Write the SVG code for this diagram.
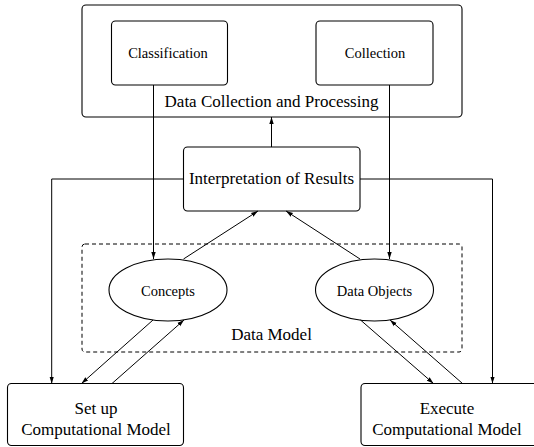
<svg xmlns="http://www.w3.org/2000/svg" width="534" height="447" viewBox="0 0 534 447">
<style>
.box{fill:none;stroke:#000;stroke-width:1.1}
.dash{fill:none;stroke:#000;stroke-width:1;stroke-dasharray:4,3}
.t{font-family:"Liberation Serif","Times New Roman",serif;fill:#000;text-anchor:middle}
.s{font-size:14.5px}
.b{font-size:17px}
.c{fill:none;stroke:#000;stroke-width:1;marker-end:url(#ah)}
</style>
<defs>
<marker id="ah" markerUnits="userSpaceOnUse" markerWidth="7" markerHeight="6" refX="7" refY="3" orient="auto">
<path d="M0,0.8 L7,3 L0,5.2 z" fill="#000"/>
</marker>
</defs>
<rect x="0" y="0" width="534" height="447" fill="#fff"/>
<g id="dcp">
<rect class="box" x="82" y="5" width="380" height="112" rx="4"/>
<text class="t b" x="271.5" y="107">Data Collection and Processing</text>
</g>
<g id="classification">
<rect class="box" x="111.5" y="21" width="116" height="64" rx="4"/>
<text class="t s" x="168" y="58">Classification</text>
</g>
<g id="collection">
<rect class="box" x="316" y="21" width="117" height="64" rx="4"/>
<text class="t s" x="375" y="58">Collection</text>
</g>
<g id="interpretation">
<rect class="box" x="183.5" y="147" width="176.5" height="64" rx="4"/>
<text class="t b" x="271.5" y="183.5">Interpretation of Results</text>
</g>
<g id="datamodel">
<rect class="dash" x="82" y="244" width="380" height="108" rx="3"/>
<text class="t b" x="271.5" y="340">Data Model</text>
</g>
<g id="concepts">
<ellipse class="box" cx="168" cy="290" rx="59" ry="31"/>
<text class="t s" x="168" y="296">Concepts</text>
</g>
<g id="dataobjects">
<ellipse class="box" cx="374.5" cy="290" rx="59" ry="31"/>
<text class="t s" x="374.5" y="296">Data Objects</text>
</g>
<g id="setup">
<rect class="box" x="7.5" y="383.5" width="176" height="62" rx="4"/>
<text class="t b" x="96" y="414">Set up</text>
<text class="t b" x="96" y="435">Computational Model</text>
</g>
<g id="execute">
<rect class="box" x="361" y="383.5" width="180" height="62" rx="4"/>
<text class="t b" x="447" y="414">Execute</text>
<text class="t b" x="447" y="435">Computational Model</text>
</g>
<g id="connectors">
<path class="c" d="M271.5,147 V117"/>
<path class="c" d="M153.5,85 V259"/>
<path class="c" d="M389.5,85 V259"/>
<path class="c" d="M183.5,179 H51.7 V383.5"/>
<path class="c" d="M360,179 H492.5 V383.5"/>
<path class="c" d="M183.5,259 L258,211"/>
<path class="c" d="M360,259 L286,211"/>
<path class="c" d="M153,320 L81.5,383.5"/>
<path class="c" d="M112,383.5 L184,320"/>
<path class="c" d="M360.5,320 L433.5,383.5"/>
<path class="c" d="M462.5,383.5 L390,320"/>
</g>
</svg>
